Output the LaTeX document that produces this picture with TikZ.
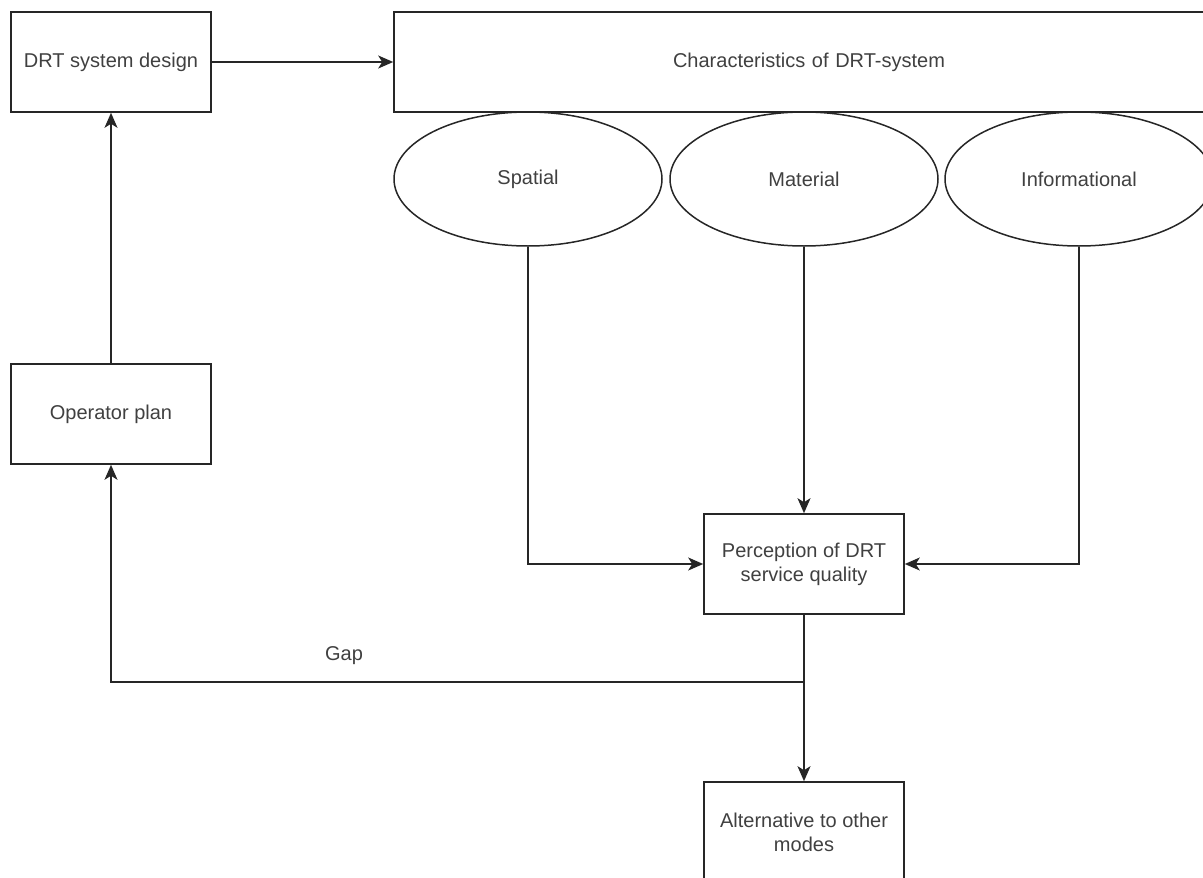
\documentclass[tikz,border=0pt]{standalone}
\usepackage{fontspec}
\setmainfont{Liberation Sans}
\usetikzlibrary{arrows.meta,shapes.geometric}

\tikzset{
	blockbox/.style={rectangle, draw=black!85, line width=1.6pt, minimum width=200pt, minimum height=100pt, inner sep=0pt, align=center, text=black!75, font=\fontsize{20}{24}\selectfont},
	aspect/.style={ellipse, draw=black!85, line width=1.5pt, minimum width=268pt, minimum height=134pt, inner sep=0pt, text=black!75, font=\fontsize{20}{24}\selectfont},
	link/.style={draw=black!85, line width=1.6pt, -{Stealth[length=15pt, width=13pt, inset=4pt]}},
}

\begin{document}
\begin{tikzpicture}[x=1pt, y=-1pt]

\useasboundingbox (0,0) rectangle (1203,878);

	\node [blockbox] (design) at (111,62) {DRT system design};
	\node [blockbox, minimum width=830pt, text width=800pt] (chars) at (809,62) {Characteristics of DRT-system};

	\node [aspect] (spatial) at (528,179) {Spatial};
	\node [aspect] (material) at (804,179) {Material};
	\node [aspect] (info) at (1079,179) {Informational};

	\node [blockbox] (plan) at (111,414) {Operator plan};
	\node [blockbox] (percep) at (804,564) {Perception of DRT\\service quality};
	\node [blockbox] (alt) at (804,832) {Alternative to other\\modes};

\coordinate (split) at (percep.south |- 0,682);

	\draw [link] (design) -- (chars);
	\draw [link] (plan) -- (design);
	\draw [link] (spatial.south) |- (percep.west);
	\draw [link] (material) -- (percep);
	\draw [link] (info.south) |- (percep.east);
	\draw [link] (percep) -- (alt);
	\draw [link] (split) -| (plan.south);

\node [text=black!75, font=\fontsize{20}{24}\selectfont] (gap) at (344,656) {Gap};

\end{tikzpicture}
\end{document}
